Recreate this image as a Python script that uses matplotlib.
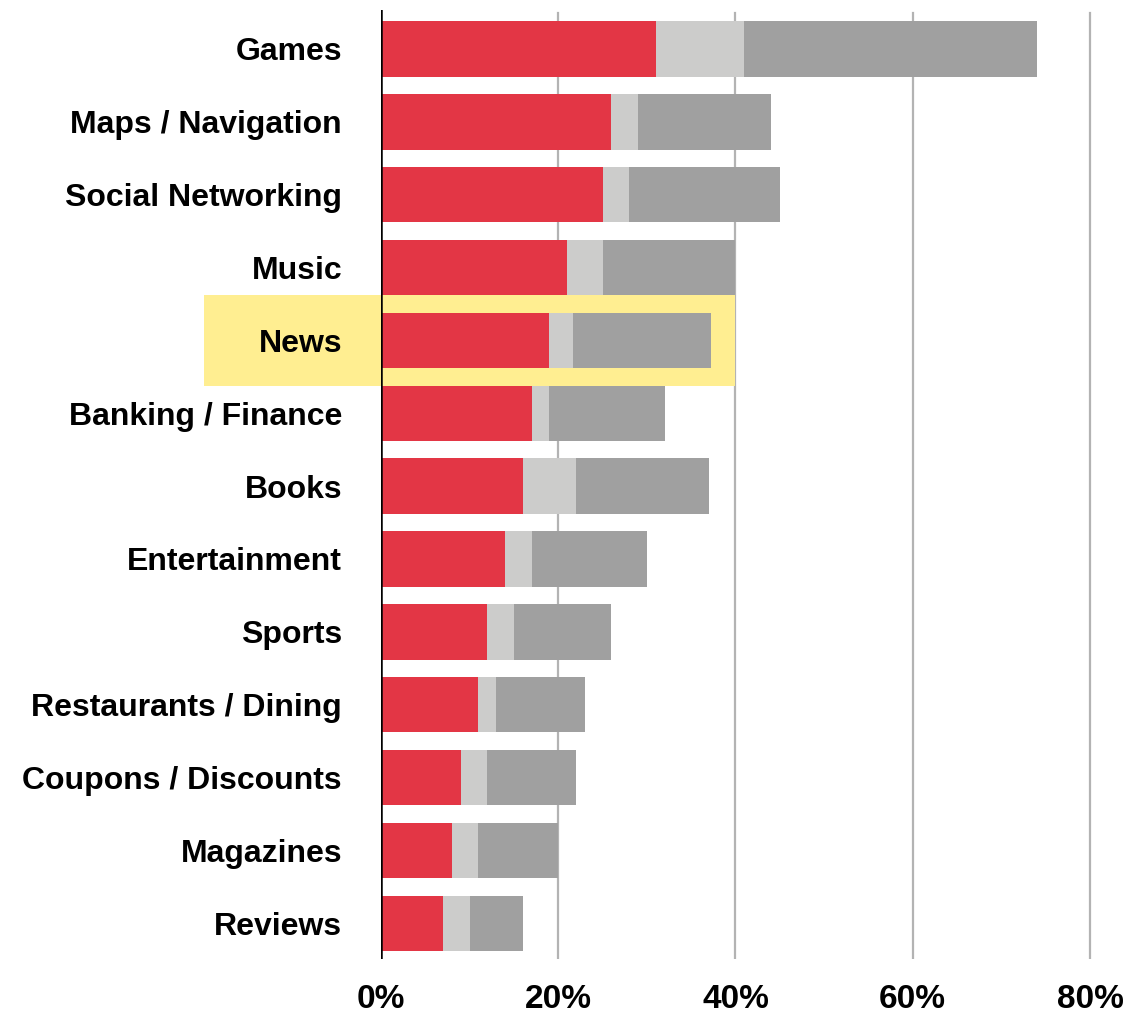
import matplotlib
matplotlib.use("Agg")
import matplotlib.pyplot as plt
from matplotlib.patches import Rectangle

# share of users (%), cumulative ends of each stacked segment
categories = ["Games", "Maps / Navigation", "Social Networking", "Music", "News",
              "Banking / Finance", "Books", "Entertainment", "Sports",
              "Restaurants / Dining", "Coupons / Discounts", "Magazines", "Reviews"]
first_share = [31, 26, 25, 21, 19, 17, 16, 14, 12, 11, 9, 8, 7]
second_share = [10, 3, 3, 4, 2.7, 2, 6, 3, 3, 2, 3, 3, 3]
third_share = [33, 15, 17, 15, 15.5, 13, 15, 13, 11, 10, 10, 9, 6]
x_ticks = [0, 20, 40, 60, 80]
x_tick_labels = ["0%", "20%", "40%", "60%", "80%"]
highlight = "News"

RED = "#e33645"
LIGHT = "#cccccb"
DARK = "#a0a0a0"
YELLOW = "#ffee91"

plt.rcParams["font.family"] = ["Liberation Sans", "DejaVu Sans"]
plt.rcParams["font.weight"] = "bold"

W, H = 1148, 1015
fig = plt.figure(figsize=(W / 100, H / 100), dpi=100)
ax = fig.add_axes([381 / W, 56 / H, 726.7 / W, 949 / H])

ys = list(range(len(categories)))
left2 = [a for a in first_share]
left3 = [a + b for a, b in zip(first_share, second_share)]
bh = 0.76
ax.barh(ys, first_share, height=bh, color=RED, zorder=3)
ax.barh(ys, second_share, left=left2, height=bh, color=LIGHT, zorder=3)
ax.barh(ys, third_share, left=left3, height=bh, color=DARK, zorder=3)

# vertical grid lines, drawn by hand so the labels stay above the highlight
for t in x_ticks[1:]:
    ax.axvline(t, ymax=0.997, color="#b3b3b3", lw=1.6, zorder=0.5)
ax.axvline(0, color="black", lw=1.8, zorder=4)

# yellow band behind the highlighted row, reaching into the label area
hi = categories.index(highlight)
ax.add_patch(Rectangle((-20, hi - 0.625), 60, 1.25, facecolor=YELLOW,
                       edgecolor="none", clip_on=False, zorder=1))

ax.set_xlim(0, 82)
ax.set_ylim(len(categories) - 0.51, -0.535)
ax.set_yticks(ys)
ax.set_yticklabels(categories, fontsize=23, fontweight="bold")
ax.set_xticks(x_ticks)
ax.set_xticklabels(x_tick_labels, fontsize=24, fontweight="bold")
ax.tick_params(axis="y", length=0, pad=28)
ax.tick_params(axis="x", length=0, pad=18)
for s in ax.spines.values():
    s.set_visible(False)

fig.savefig("out.png", dpi=100)
